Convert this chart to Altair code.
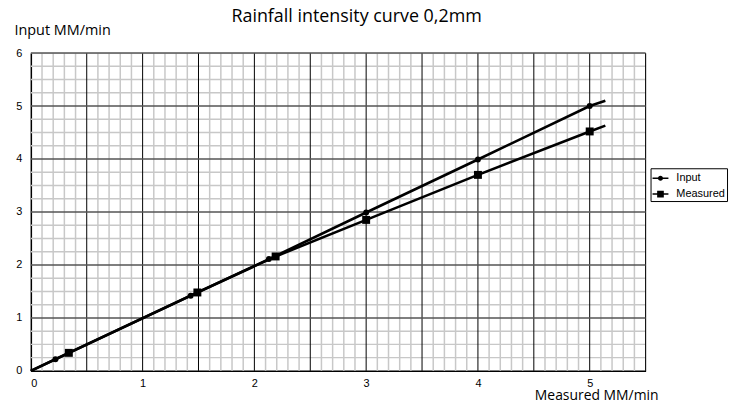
import altair as alt
import pandas as pd

# ---- data ----
series_names = ["Input", "Measured"]
input_x = [0.0, 0.22, 1.43, 2.13, 3.0, 4.0, 5.0, 5.14]
input_y = [0.0, 0.22, 1.42, 2.11, 2.99, 3.99, 5.0, 5.10]
input_marker = [False, True, True, True, True, True, True, False]
measured_x = [0.0, 0.34, 1.49, 2.19, 3.0, 4.0, 5.0, 5.14]
measured_y = [0.0, 0.34, 1.48, 2.16, 2.85, 3.70, 4.52, 4.63]
measured_marker = [False, True, True, True, True, True, True, False]

x_ticks = [0, 1, 2, 3, 4, 5]
y_ticks = [0, 1, 2, 3, 4, 5, 6]
x_domain = [0, 5.5]
y_domain = [0, 6]

# ---- tables ----
rows = []
for x, y, m in zip(input_x, input_y, input_marker):
    rows.append({"series": "Input", "x": x, "y": y, "marker": m})
for x, y, m in zip(measured_x, measured_y, measured_marker):
    rows.append({"series": "Measured", "x": x, "y": y, "marker": m})
df = pd.DataFrame(rows)
df["series_m"] = df["series"]

# graph-paper grid positions
minor_x = [round(i * 0.1, 2) for i in range(1, 55) if i % 5 != 0]
major_x = [round(i * 0.5, 2) for i in range(1, 12)]
minor_y = [round(i * 0.25, 2) for i in range(1, 24) if i % 4 != 0]
major_y = [i for i in range(1, 7)]

x_axis = alt.Axis(values=x_ticks, grid=False, ticks=False, domain=True,
                  domainColor="#000000", domainWidth=1.5,
                  labelFont="Liberation Sans", labelFontSize=11,
                  labelColor="#000000", labelPadding=7,
                  title="Measured MM/min", titleFont="Open Sans",
                  titleFontSize=14, titleFontWeight="normal",
                  titleColor="#000000", titleAlign="left",
                  titleBaseline="alphabetic", titleX=507, titleY=29)
y_axis = alt.Axis(values=y_ticks, grid=False, ticks=False, domain=True,
                  domainColor="#000000", domainWidth=1.5,
                  labelFont="Liberation Sans", labelFontSize=11,
                  labelColor="#000000", labelPadding=9,
                  title="Input MM/min", titleFont="Open Sans",
                  titleFontSize=14.5, titleFontWeight="normal",
                  titleColor="#000000", titleAngle=0, titleAlign="left",
                  titleBaseline="alphabetic", titleX=-17, titleY=-19)


def X(field):
    return alt.X(field, scale=alt.Scale(domain=x_domain, nice=False, zero=False),
                 axis=x_axis)


def Y(field):
    return alt.Y(field, scale=alt.Scale(domain=y_domain, nice=False, zero=False),
                 axis=y_axis)


minor_v = alt.Chart(pd.DataFrame({"gx": minor_x})).mark_rule(
    color="#c8c8c8", strokeWidth=1.5).encode(x=X("gx:Q"))
minor_h = alt.Chart(pd.DataFrame({"gy": minor_y})).mark_rule(
    color="#c8c8c8", strokeWidth=1.5).encode(y=Y("gy:Q"))
major_v = alt.Chart(pd.DataFrame({"gx": major_x})).mark_rule(
    color="#000000", strokeWidth=1).encode(x=X("gx:Q"))
major_h = alt.Chart(pd.DataFrame({"gy": major_y})).mark_rule(
    color="#555555", strokeWidth=1.5).encode(y=Y("gy:Q"))

lines = alt.Chart(df).mark_line(strokeWidth=2.6, color="#000000").encode(
    x=X("x:Q"), y=Y("y:Q"), detail="series:N")

points = alt.Chart(df).transform_filter("datum.marker").mark_point(
    filled=True, opacity=1, color="#000000").encode(
    x=X("x:Q"), y=Y("y:Q"),
    shape=alt.Shape("series_m:N", scale=alt.Scale(domain=series_names,
                                                   range=["circle", "square"]),
                    legend=None),
    size=alt.Size("series_m:N", scale=alt.Scale(domain=series_names, range=[36, 64]),
                  legend=None))

# legend-only layer: symbols are a line segment with the series marker
input_sym = ("M-1,-0.09H1V0.09H-1Z"
             "M-0.32,0A0.32,0.32,0,1,1,0.32,0A0.32,0.32,0,1,1,-0.32,0Z")
measured_sym = "M-1,-0.09H1V0.09H-1ZM-0.42,-0.42H0.42V0.42H-0.42Z"

legend_layer = alt.Chart(df).transform_filter("false").mark_point(
    filled=True, opacity=1, color="#000000").encode(
    x=X("x:Q"), y=Y("y:Q"),
    shape=alt.Shape("series:N",
                    scale=alt.Scale(domain=series_names,
                                    range=[input_sym, measured_sym]),
                    legend=alt.Legend(
                        title=None, orient="none", legendX=624, legendY=116,
                        strokeColor="#000000", fillColor="#ffffff", padding=2,
                        labelFont="Liberation Sans", labelFontSize=11,
                        labelColor="#000000", labelOffset=8, rowPadding=3,
                        symbolSize=256, symbolFillColor="#000000",
                        symbolStrokeWidth=0, symbolOpacity=1)))

chart = alt.layer(minor_v, minor_h, major_v, major_h, lines, points,
                  legend_layer).resolve_scale(shape="independent").properties(
    width=619, height=320,
    autosize=alt.AutoSizeParams(type="none"),
    padding={"left": 23, "top": 44, "right": 85, "bottom": 33},
    title=alt.TitleParams("Rainfall intensity curve 0,2mm", font="Open Sans",
                          fontSize=18, fontWeight="normal", color="#000000",
                          anchor="start", frame="group", dx=202, dy=21,
                          baseline="alphabetic", offset=3),
).configure_view(stroke="#444444", strokeWidth=1.5).configure(background="#ffffff")

chart.save("out.html", embed_options={"renderer": "svg", "actions": False})
